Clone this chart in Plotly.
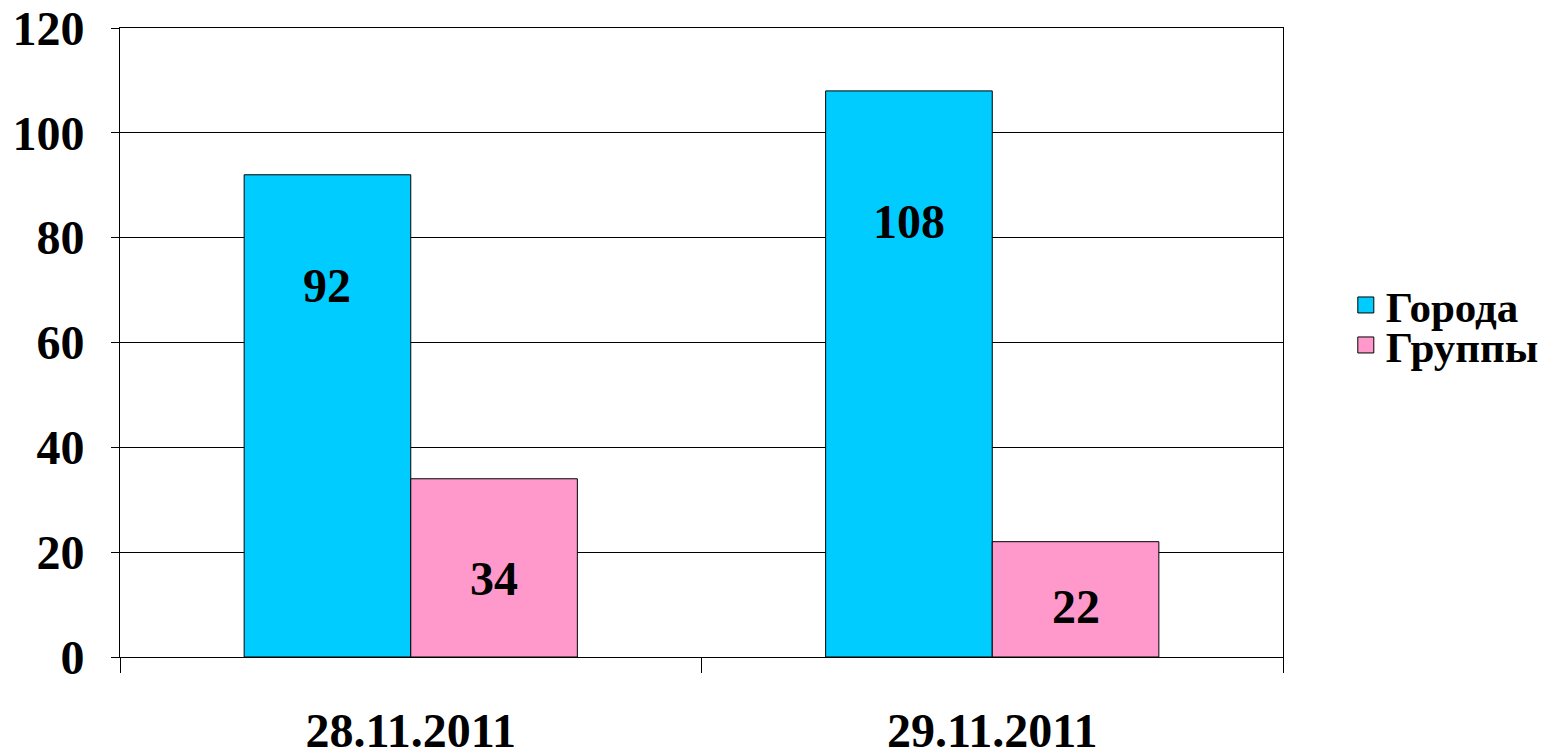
import plotly.graph_objects as go

categories = ["28.11.2011", "29.11.2011"]
series_names = ["Города", "Группы"]
goroda = [92, 108]
gruppy = [34, 22]
colors = ["#00CCFF", "#FF99CC"]
label_frac = [0.77, 0.44]  # relative height of data labels inside bars

FONT = "Liberation Serif"
BARGAP = 0.427

fig = go.Figure()
legend_ids = ["legend", "legend2"]
for name, vals, col, lg in zip(series_names, [goroda, gruppy], colors, legend_ids):
    fig.add_trace(go.Bar(
        x=categories, y=vals, name=name, showlegend=False,
        marker=dict(color=col, line=dict(color="black", width=1)),
    ))
    # legend entry with a larger square symbol
    fig.add_trace(go.Scatter(
        x=[categories[0]], y=[None], name=name, mode="markers", legend=lg,
        marker=dict(symbol="square", size=22, color=col,
                    line=dict(color="black", width=1)),
        hoverinfo="skip",
    ))

# data labels
bar_w = (1 - BARGAP) / 2
for s, (vals, frac) in enumerate(zip([goroda, gruppy], label_frac)):
    off = (-0.5 + s) * bar_w
    for i, v in enumerate(vals):
        fig.add_annotation(
            x=i + off, y=v * frac, xref="x", yref="y",
            text=str(v), showarrow=False,
            font=dict(family=FONT, size=48, color="black", weight="bold"),
        )

legend_style = dict(
    x=1.054, xanchor="left", yanchor="middle",
    font=dict(family=FONT, size=43, color="black", weight="bold"),
    itemsizing="trace", itemwidth=30, bgcolor="rgba(0,0,0,0)",
)
fig.update_layout(
    width=1538, height=744,
    margin=dict(l=112, r=263, t=20, b=95, autoexpand=False),
    paper_bgcolor="white", plot_bgcolor="white",
    barmode="group", bargap=BARGAP, bargroupgap=0,
    font=dict(family=FONT, color="black"),
    legend=dict(y=0.5596, **legend_style),
    legend2=dict(y=0.496, **legend_style),
    showlegend=True,
)
fig.update_xaxes(
    type="category", tickson="boundaries", ticks="outside", ticklen=15,
    tickcolor="black", showline=True, linecolor="black", linewidth=1,
    mirror=True, showgrid=False, automargin=False,
    tickfont=dict(family=FONT, size=48, color="black", weight="bold"),
    ticklabelstandoff=31, range=[-0.5, 1.5], ticklabeloverflow="allow",
)
fig.update_yaxes(
    range=[0, 120], dtick=20, ticks="outside", ticklen=8, tickcolor="black",
    showline=True, linecolor="black", linewidth=1, mirror=True,
    showgrid=True, gridcolor="black", gridwidth=1, automargin=False,
    tickfont=dict(family=FONT, size=48, color="black", weight="bold"),
    ticklabelstandoff=17, ticklabeloverflow="allow",
    zeroline=False,
)
fig.write_html("out.html")
